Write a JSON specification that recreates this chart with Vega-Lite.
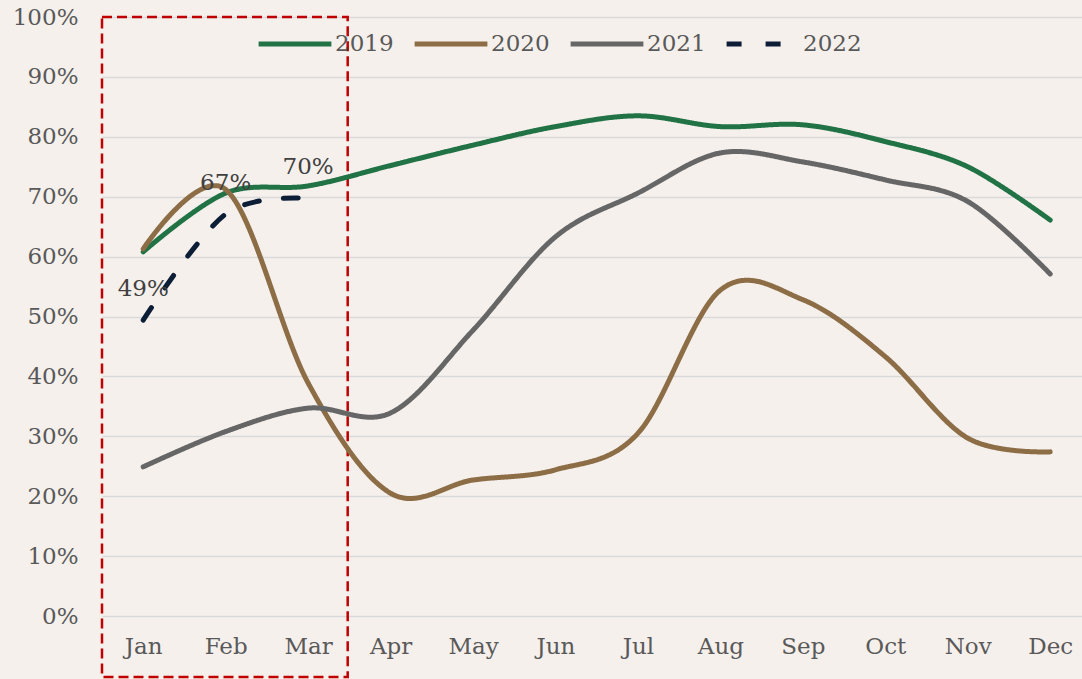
{
  "$schema": "https://vega.github.io/schema/vega-lite/v6.json",
  "width": 980,
  "height": 599,
  "autosize": {"type": "none"},
  "padding": {"left": 102, "top": 17, "right": 0, "bottom": 63},
  "background": "#f5f0ec",
  "config": {
    "view": {"stroke": null},
    "font": "DejaVu Serif",
    "legend": {
      "title": null,
      "orient": "none",
      "direction": "horizontal",
      "legendX": 154,
      "legendY": -12,
      "symbolType": "stroke",
      "symbolSize": 5300,
      "symbolStrokeWidth": 5,
      "labelFont": "DejaVu Serif",
      "labelFontSize": 23,
      "labelColor": "#595959",
      "labelOffset": 1,
      "columnPadding": 10
    }
  },
  "datasets": {
    "lines": [
      {"year": "2019", "m": 1, "v": 0.608}, {"year": "2019", "m": 2, "v": 0.706}, {"year": "2019", "m": 3, "v": 0.718},
      {"year": "2019", "m": 4, "v": 0.752}, {"year": "2019", "m": 5, "v": 0.786}, {"year": "2019", "m": 6, "v": 0.817},
      {"year": "2019", "m": 7, "v": 0.835}, {"year": "2019", "m": 8, "v": 0.817}, {"year": "2019", "m": 9, "v": 0.820},
      {"year": "2019", "m": 10, "v": 0.792}, {"year": "2019", "m": 11, "v": 0.750}, {"year": "2019", "m": 12, "v": 0.661},
      {"year": "2020", "m": 1, "v": 0.613}, {"year": "2020", "m": 2, "v": 0.712}, {"year": "2020", "m": 3, "v": 0.389},
      {"year": "2020", "m": 4, "v": 0.205}, {"year": "2020", "m": 5, "v": 0.227}, {"year": "2020", "m": 6, "v": 0.244},
      {"year": "2020", "m": 7, "v": 0.305}, {"year": "2020", "m": 8, "v": 0.544}, {"year": "2020", "m": 9, "v": 0.528},
      {"year": "2020", "m": 10, "v": 0.433}, {"year": "2020", "m": 11, "v": 0.297}, {"year": "2020", "m": 12, "v": 0.274},
      {"year": "2021", "m": 1, "v": 0.249}, {"year": "2021", "m": 2, "v": 0.308}, {"year": "2021", "m": 3, "v": 0.347},
      {"year": "2021", "m": 4, "v": 0.339}, {"year": "2021", "m": 5, "v": 0.477}, {"year": "2021", "m": 6, "v": 0.633},
      {"year": "2021", "m": 7, "v": 0.706}, {"year": "2021", "m": 8, "v": 0.773}, {"year": "2021", "m": 9, "v": 0.758},
      {"year": "2021", "m": 10, "v": 0.728}, {"year": "2021", "m": 11, "v": 0.692}, {"year": "2021", "m": 12, "v": 0.571},
      {"year": "2022", "m": 1, "v": 0.494}, {"year": "2022", "m": 2, "v": 0.671}, {"year": "2022", "m": 3, "v": 0.697}
    ],
    "highlight": [{"from": 0.5, "to": 3.48, "top": 1.0, "bottom": -0.102}]
  },
  "layer": [
    {
      "data": {"name": "highlight"},
      "mark": {"type": "rect", "fill": null, "fillOpacity": 0, "stroke": "#c00000", "strokeWidth": 2.5, "strokeDash": [10, 5], "clip": false},
      "encoding": {
        "x": {"field": "from", "type": "quantitative"},
        "x2": {"field": "to"},
        "y": {"field": "top", "type": "quantitative"},
        "y2": {"field": "bottom"}
      }
    },
    {
      "data": {"name": "lines"},
      "mark": {"type": "line", "interpolate": "cardinal", "tension": 0, "strokeWidth": 5, "strokeCap": "round", "strokeJoin": "round"},
      "encoding": {
        "x": {
          "field": "m", "type": "quantitative",
          "scale": {"domain": [0.5, 12.386], "nice": false, "zero": false},
          "axis": {
            "title": null, "values": [1,2,3,4,5,6,7,8,9,10,11,12],
            "labelExpr": "['Jan','Feb','Mar','Apr','May','Jun','Jul','Aug','Sep','Oct','Nov','Dec'][datum.value-1]",
            "grid": false, "domain": false, "ticks": false,
            "labelFont": "DejaVu Serif", "labelFontSize": 23, "labelColor": "#595959", "labelPadding": 19
          }
        },
        "y": {
          "field": "v", "type": "quantitative",
          "scale": {"domain": [0, 1], "nice": false, "zero": true},
          "axis": {
            "title": null, "values": [0,0.1,0.2,0.3,0.4,0.5,0.6,0.7,0.8,0.9,1.0],
            "format": ".0%", "grid": true, "gridColor": "#d9d9d9", "gridWidth": 1.5,
            "domain": false, "ticks": false,
            "labelFont": "DejaVu Serif", "labelFontSize": 23, "labelColor": "#595959", "labelPadding": 24
          }
        },
        "color": {
          "field": "year", "type": "nominal",
          "scale": {"domain": ["2019","2020","2021","2022"], "range": ["#217346","#8c6d46","#666666","#0c1d36"]},
          "legend": {"symbolStrokeWidth": 5, "symbolType": "stroke", "symbolSize": 5300}
        },
        "strokeDash": {
          "field": "year", "type": "nominal",
          "scale": {"domain": ["2019","2020","2021","2022"], "range": [[1,0],[1,0],[1,0],[15,24]]},
          "legend": {"symbolStrokeWidth": 5, "symbolType": "stroke", "symbolSize": 5300}
        }
      }
    },
    {
      "data": {"name": "lines"},
      "transform": [{"filter": "datum.year === '2022'"}],
      "mark": {"type": "text", "dy": -31, "align": "center", "baseline": "middle", "font": "DejaVu Serif", "fontSize": 23, "color": "#404040"},
      "encoding": {
        "x": {"field": "m", "type": "quantitative"},
        "y": {"field": "v", "type": "quantitative"},
        "text": {"field": "v", "type": "quantitative", "format": ".0%"}
      }
    }
  ]
}
